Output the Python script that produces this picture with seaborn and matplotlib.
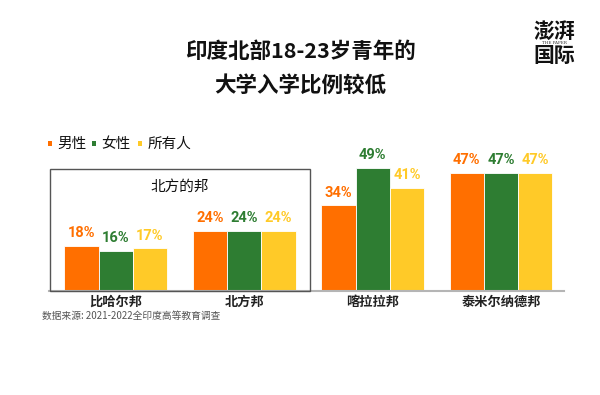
import pandas as pd
import matplotlib
matplotlib.use("Agg")
import matplotlib.pyplot as plt
import matplotlib.patches as mpatches
import seaborn as sns

# data
states = ['比哈尔邦', '北方邦', '喀拉拉邦', '泰米尔纳德邦']
groups = ['男性', '女性', '所有人']
male = [18, 24, 34, 47]
female = [16, 24, 49, 47]
everyone = [17, 24, 41, 47]
colors = ['#FF6F00', '#2E7D32', '#FFCA28']

df = pd.DataFrame({
    'state': states * 3,
    'group': [g for g in groups for _ in states],
    'pct': male + female + everyone,
})

sns.set_style('white')
plt.rcParams['font.family'] = ['Noto Sans CJK SC', 'DejaVu Sans']
num_font = ['Roboto', 'DejaVu Sans']

fig = plt.figure(figsize=(6, 3.95), dpi=100)
ax = fig.add_axes([49 / 600, 104 / 395, 515 / 600, 151 / 395])

sns.barplot(data=df, x='state', y='pct', hue='group', palette=colors,
            width=0.8, saturation=1, legend=False, ax=ax,
            edgecolor='white', linewidth=0.6)

ax.set_xlim(-0.52, 3.49)
ax.set_ylim(0, 60)
ax.set_xlabel('')
ax.set_ylabel('')
ax.set_yticks([])
for s in ['top', 'left', 'right']:
    ax.spines[s].set_visible(False)
ax.spines['bottom'].set_color('#b5b5b5')
ax.spines['bottom'].set_linewidth(1.5)
ax.tick_params(axis='x', length=0, pad=3, labelsize=9.5)
for lbl in ax.get_xticklabels():
    lbl.set_fontweight('bold')
    lbl.set_color('#222222')

# value labels
for cont, c in zip(ax.containers, colors):
    ax.bar_label(cont, labels=[f'{int(b.get_height())}%' for b in cont],
                 padding=4, color=c, fontsize=10.5, fontweight='bold',
                 family=num_font)

# box around northern states
fig.patches.append(mpatches.Rectangle((49.5 / 600, 104 / 395), 261 / 600, 122 / 395,
                                      transform=fig.transFigure, fill=False,
                                      ec='#555555', lw=1))
fig.text(180 / 600, 1 - 187 / 395, '北方的邦', ha='center', va='center',
         fontsize=10.5, color='#111111')

# title
fig.text(0.5, 1 - 51 / 395, '印度北部18-23岁青年的', ha='center', va='center',
         fontsize=15.5, fontweight='bold', color='#111111')
fig.text(0.5, 1 - 85 / 395, '大学入学比例较低', ha='center', va='center',
         fontsize=15.5, fontweight='bold', color='#111111')

# legend
leg_x = [47.5, 91.5, 137.5]
for x, g, c in zip(leg_x, groups, colors):
    fig.patches.append(mpatches.Rectangle((x / 600, 1 - 145.5 / 395), 4.5 / 600, 4.5 / 395,
                                          transform=fig.transFigure, color=c, lw=0))
    fig.text((x + 10) / 600, 1 - 144 / 395, g, ha='left', va='center',
             fontsize=10.5, color='#111111')

# source
fig.text(42 / 600, 1 - 316 / 395, '数据来源: 2021-2022全印度高等教育调查',
         ha='left', va='center', fontsize=7, color='#555555')

# logo
fig.text(554 / 600, 1 - 31 / 395, '澎湃', ha='center', va='center',
         fontsize=15, fontweight='bold', color='#111111')
fig.text(554 / 600, 1 - 43.5 / 395, 'THE PAPER', ha='center', va='center',
         fontsize=3, color='#333333', family=['DejaVu Serif'])
fig.text(554 / 600, 1 - 56 / 395, '国际', ha='center', va='center',
         fontsize=15, fontweight='bold', color='#111111')

fig.savefig('out.png', dpi=100)
